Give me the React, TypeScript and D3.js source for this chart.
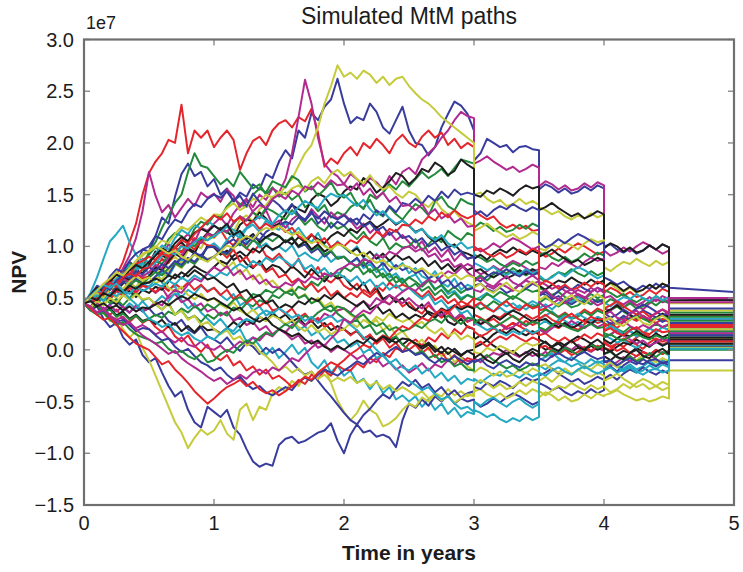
import React from 'react';
import * as d3 from 'd3';

// Canvas and plotting frame
const WIDTH = 743;
const HEIGHT = 572;
const PLOT = { left: 84, top: 39.5, right: 734, bottom: 505 };
const FONT = '"Liberation Sans", Arial, Helvetica, sans-serif';

// Axes
const xTicks = [0, 1, 2, 3, 4, 5];
const yTicks = [-1.5, -1.0, -0.5, 0, 0.5, 1.0, 1.5, 2.0, 2.5, 3.0];
const yOffsetLabel = '1e7';
const titleText = 'Simulated MtM paths';
const xLabelText = 'Time in years';
const yLabelText = 'NPV';

// Path values are stored in units of 1e5; payment dates split each path into segments
const VALUE_UNIT = 1e5;
const segmentSpans: [number, number][] = [
  [0, 3],
  [3, 3.5],
  [3.5, 4],
  [4, 4.5],
  [4.5, 5],
];

// Classic colour cycle (b, g, r, c, m, y, k)
const lineColors = ['#383c9c', '#23893b', '#e4262c', '#25a8c2', '#b02a8f', '#c5cb3a', '#1e1e1e'];

// Simulated mark-to-market paths, one string per path, segments separated by "|"
const mtmPaths: string[] = [
  '45 52 47 60 68 63 78 85 80 97 95 110 128 122 148 170 180 168 172 158 165 150 156 143 152 148 160 155 170 166 182 193 185 212 205 229 222 235 242 262 238 219 225 222 238 230 215 209 222 235 212 200 198 188 196 215 228 240 236 228 212 | 183 190 204 200 196 198 191 196 197 194 193 | 155 160 157 152 156 151 153 158 154 159 156 | 100 102 97 94 98 93 96 101 97 102 99 | 60 56',
  '45 40 52 48 58 62 55 70 82 78 95 104 118 130 142 150 172 190 178 176 168 160 165 158 172 164 156 160 150 157 148 152 145 150 138 142 134 140 128 133 130 138 142 136 150 146 152 160 155 163 158 165 172 166 170 175 168 176 184 182 180 | 68 72 67 73 77 74 79 75 72 76 73 | 60 57 53 56 51 48 52 49 54 50 53 | 35 38 42 37 33 29 32 27 30 34 31 | 22 22',
  '45 50 48 58 66 72 85 104 122 150 171 182 190 203 200 237 190 212 205 212 196 205 212 203 174 190 202 206 198 212 219 222 215 225 221 233 210 177 185 180 190 196 188 200 195 204 198 190 202 208 200 196 206 212 205 210 198 204 195 200 196 | 135 130 126 129 122 118 121 117 120 115 116 | 95 90 93 98 94 99 103 100 96 92 95 | 55 60 57 52 56 51 53 58 54 59 56 | 33 33',
  '45 55 70 88 105 112 120 104 92 85 72 78 65 58 62 48 40 45 36 30 24 30 22 15 20 8 12 4 -5 2 -8 -2 5 -4 2 -12 -18 -10 -22 -15 -25 -20 -32 -28 -38 -30 -42 -36 -48 -44 -50 -45 -55 -48 -58 -52 -62 -56 -65 -60 -62 | -58 -61 -65 -62 -67 -70 -66 -69 -64 -68 -65 | -15 -19 -14 -10 -12 -7 -11 -14 -9 -13 -10 | -12 -10 -15 -18 -14 -19 -16 -11 -15 -10 -13 | 9 9',
  '45 50 58 52 62 60 70 78 72 88 84 95 90 102 98 106 112 104 118 115 122 128 120 132 140 146 138 150 145 156 152 165 190 225 261 238 205 180 172 168 160 170 165 158 166 162 155 168 160 172 176 170 184 190 196 205 212 222 230 226 224 | 180 183 187 182 178 174 177 172 175 179 176 | 158 163 160 155 159 154 156 161 157 162 159 | 96 91 94 99 95 100 104 101 97 93 96 | 50 48',
  '45 40 48 44 55 50 58 66 60 72 70 78 74 85 90 84 96 102 98 110 108 115 120 114 126 130 124 136 140 148 150 158 165 178 190 198 215 238 255 275 264 268 262 270 266 258 264 256 262 264 255 248 242 238 232 225 220 215 210 205 200 | 150 152 146 142 145 139 141 146 141 144 140 | 138 135 131 134 129 126 130 127 132 128 131 | 80 76 81 85 83 88 84 81 86 82 85 | 45 45',
  '45 49 58 55 51 63 70 68 77 74 82 95 91 88 99 104 97 93 106 113 110 118 114 109 121 126 124 133 127 119 122 131 140 136 133 145 151 148 139 144 153 158 155 166 161 152 157 163 171 168 160 166 175 172 181 177 169 173 184 179 175 | 150 148 154 151 156 153 149 155 159 156 158 | 135 138 142 137 133 129 132 127 130 134 131 | 98 103 100 95 99 94 96 101 97 102 99 | 48 48',
  '45 38 42 30 22 26 12 5 10 -5 -12 -8 -22 -35 -45 -40 -58 -70 -75 -55 -60 -65 -58 -75 -82 -96 -108 -113 -110 -112 -92 -86 -84 -90 -88 -84 -80 -78 -71 -88 -100 -82 -72 -80 -78 -84 -82 -85 -94 -68 -52 -56 -48 -54 -45 -50 -44 -52 -47 -50 -48 | -50 -55 -52 -47 -51 -46 -42 -45 -49 -53 -50 | -32 -35 -39 -36 -41 -44 -40 -43 -38 -42 -39 | -28 -24 -29 -23 -19 -22 -17 -21 -24 -20 -23 | -10 -10',
  '45 52 49 61 66 62 71 83 80 86 92 99 95 107 113 110 104 117 124 121 130 128 139 146 141 138 150 156 152 163 160 157 168 164 153 158 149 155 162 151 147 152 141 137 145 133 129 138 131 126 134 141 137 130 143 148 139 135 146 142 140 | 118 123 120 115 119 114 116 121 117 122 119 | 92 94 89 86 90 85 88 93 89 94 91 | 58 55 51 54 49 46 50 47 52 48 51 | 36 36',
  '45 41 50 57 53 62 58 66 74 69 71 79 88 84 93 101 97 108 104 112 109 116 106 101 110 98 94 102 91 87 93 85 79 88 76 72 80 69 65 71 62 58 64 55 51 57 48 44 50 42 46 39 35 43 37 31 36 28 33 27 30 | 28 24 29 33 31 36 32 29 34 30 33 | 20 18 24 21 26 23 19 25 29 26 28 | 8 3 6 11 7 12 16 13 9 5 8 | 10 10',
  '45 39 44 52 48 57 53 49 60 64 61 68 75 71 82 88 84 93 90 99 103 97 106 113 108 117 121 114 125 119 116 123 112 118 109 104 113 101 96 105 99 94 100 89 85 93 81 87 78 84 74 79 71 68 76 65 61 69 58 63 60 | 48 51 55 50 46 42 45 40 43 47 44 | 40 44 39 45 49 46 51 47 44 48 45 | 20 22 17 14 18 13 16 21 17 22 19 | 16 16',
  '45 53 58 55 68 64 79 91 108 134 172 149 133 140 128 137 146 139 152 147 151 143 155 149 138 144 133 127 135 121 125 118 126 131 124 136 129 122 133 127 131 125 117 122 113 119 108 114 106 111 104 98 105 94 99 90 97 86 93 88 90 | 78 73 76 81 77 82 86 83 79 75 78 | 66 63 59 62 57 54 58 55 60 56 59 | 40 38 44 41 46 43 39 45 49 46 48 | 26 26',
  '45 40 46 35 28 32 20 12 18 2 -10 -25 -40 -55 -70 -80 -95 -85 -77 -82 -78 -68 -81 -87 -58 -52 -68 -55 -58 -42 -36 -40 -30 -35 -25 -30 -22 -17 -32 -49 -60 -68 -61 -49 -58 -62 -74 -71 -66 -58 -52 -55 -46 -50 -42 -45 -38 -44 -40 -45 -42 | -40 -38 -43 -46 -42 -47 -44 -39 -43 -38 -41 | -46 -41 -44 -49 -45 -50 -48 -43 -47 -42 -45 | -44 -42 -39 -43 -46 -49 -47 -50 -48 -45 -47 | -20 -20',
  '45 51 56 50 61 57 64 72 68 63 71 80 77 86 93 89 98 95 88 101 99 92 96 87 91 83 79 86 77 82 80 74 81 76 70 78 72 66 74 69 71 63 58 65 54 60 49 53 46 50 42 38 44 35 31 37 27 24 30 22 20 | 10 14 9 15 19 16 21 17 14 18 15 | 5 0 3 8 4 9 13 10 6 2 5 | -6 -10 -5 -1 -3 2 -2 -5 0 -4 -1 | 3 3',
  '45 49 43 38 44 47 41 36 42 37 40 33 36 28 24 29 20 16 22 13 10 6 12 4 -1 7 3 -4 2 -3 1 -5 -12 -19 -24 -21 -30 -38 -45 -53 -61 -68 -72 -63 -57 -49 -43 -47 -38 -31 -35 -29 -37 -33 -41 -36 -44 -39 -46 -42 -40 | -36 -38 -32 -35 -30 -33 -37 -31 -27 -30 -28 | -25 -22 -18 -23 -27 -31 -28 -33 -30 -26 -29 | -20 -16 -21 -15 -11 -14 -9 -13 -16 -12 -15 | 4 4',
  '45 40 47 55 51 60 68 65 73 77 80 86 83 92 99 95 103 100 108 106 111 117 113 122 129 125 133 128 137 134 130 126 135 129 121 127 119 115 123 117 120 113 107 114 105 101 108 97 103 99 100 107 96 102 109 104 115 110 106 113 110 | 92 89 85 88 83 80 84 81 86 82 85 | 70 66 71 75 73 78 74 71 76 72 75 | 44 49 46 41 45 40 42 47 43 48 45 | 28 28',
  '45 42 47 38 34 39 30 27 33 26 30 22 17 23 13 8 14 4 -2 5 -6 -10 -5 -15 -11 -20 -16 -24 -19 -28 -25 -30 -36 -29 -33 -24 -28 -20 -25 -15 -19 -20 -13 -17 -8 -12 -3 -7 2 -2 6 10 4 12 8 16 11 20 15 23 20 | 18 13 16 21 17 22 26 23 19 15 18 | 14 16 11 8 12 7 10 15 11 16 13 | 2 0 6 3 8 5 1 7 11 8 10 | 6 6',
  '45 53 49 60 68 65 76 82 78 87 85 93 101 97 108 116 112 121 117 125 120 116 121 110 114 104 108 99 103 96 100 95 101 90 94 89 86 93 85 90 90 84 88 79 83 75 79 70 74 66 70 73 64 68 59 62 54 57 50 53 50 | 40 45 42 37 41 36 38 43 39 44 41 | 30 33 37 32 28 24 27 22 25 29 26 | 14 11 7 10 5 2 6 3 8 4 7 | 12 12',
  '45 51 48 57 53 61 58 64 56 62 60 55 60 50 54 46 49 41 45 37 40 33 37 28 31 24 27 19 23 15 20 16 10 14 6 9 2 5 -2 3 0 -4 -9 -5 -13 -8 -16 -12 -19 -15 -22 -18 -13 -20 -14 -17 -10 -14 -7 -11 -10 | -8 -12 -7 -3 -5 0 -4 -7 -2 -6 -3 | -6 -2 -7 -1 3 0 5 1 -2 2 -1 | -10 -15 -12 -7 -11 -6 -2 -5 -9 -13 -10 | 8 8',
  '45 51 57 54 66 72 69 78 86 93 95 99 106 103 112 119 116 122 128 124 131 130 137 142 135 139 146 144 150 147 153 150 156 159 154 163 167 161 170 174 168 172 165 161 169 160 155 158 151 147 153 150 142 138 145 136 131 134 127 123 120 | 115 118 122 117 113 109 112 107 110 114 111 | 98 96 102 99 104 101 97 103 107 104 106 | 62 64 59 56 60 55 58 63 59 64 61 | 38 38',
  '45 41 46 52 48 44 53 57 51 58 55 61 58 66 73 69 75 81 77 74 80 86 83 91 95 90 98 94 101 97 100 106 102 109 104 111 107 103 110 114 110 117 113 120 124 118 122 127 121 125 120 114 117 109 104 108 99 102 95 93 90 | 76 78 73 70 74 69 72 77 73 78 75 | 62 58 63 67 65 70 66 63 68 64 67 | 36 39 43 38 34 30 33 28 31 35 32 | 24 24',
  '45 53 62 59 71 78 75 86 93 97 100 110 107 118 126 123 134 141 138 146 150 147 153 144 149 139 151 143 136 145 140 133 141 130 126 134 122 128 118 124 120 127 121 131 126 135 130 139 133 142 140 146 141 149 144 153 147 155 150 152 150 | 130 134 129 135 139 136 141 137 134 138 135 | 104 99 102 107 103 108 112 109 105 101 104 | 70 67 63 66 61 58 62 59 64 60 63 | 40 40',
  '45 40 47 51 45 49 43 50 55 48 50 44 39 45 34 38 30 33 27 34 30 36 33 41 38 45 42 48 45 53 50 56 53 61 58 66 62 70 74 71 80 76 82 73 78 70 74 66 71 64 70 66 61 67 58 63 56 61 55 59 60 | 50 48 54 51 56 53 49 55 59 56 58 | 45 50 47 42 46 41 43 48 44 49 46 | 26 22 27 31 29 34 30 27 32 28 31 | 18 18',
  '45 53 60 57 68 64 75 72 83 86 90 87 95 91 99 94 102 97 105 101 100 95 89 97 85 90 80 84 75 79 70 73 65 69 60 64 56 61 52 57 50 55 51 58 54 62 57 65 60 63 60 56 51 57 48 52 45 49 41 44 40 | 34 31 27 30 25 22 26 23 28 24 27 | 38 40 35 32 36 31 34 39 35 40 37 | 22 26 21 27 31 28 33 29 26 30 27 | 20 20',
  '45 39 45 36 41 33 38 45 40 47 40 46 52 47 55 51 58 54 62 57 60 53 48 54 43 47 38 42 33 37 30 24 28 19 23 14 18 10 15 7 10 3 7 -3 1 -8 -4 -13 -9 -17 -20 -15 -23 -18 -27 -22 -30 -25 -33 -28 -30 | -28 -32 -27 -23 -25 -20 -24 -27 -22 -26 -23 | -10 -7 -3 -8 -12 -16 -13 -18 -15 -11 -14 | -18 -13 -16 -21 -17 -22 -20 -15 -19 -14 -17 | 5 5',
  '45 51 57 53 63 59 69 65 73 71 75 82 79 89 95 91 100 106 103 112 110 117 114 123 129 125 134 140 137 146 150 146 154 150 158 155 162 157 164 159 160 154 161 150 156 147 152 143 148 139 140 135 141 131 136 127 131 123 127 119 120 | 100 95 98 103 99 104 108 105 101 97 100 | 80 78 84 81 86 83 79 85 89 86 88 | 50 52 47 44 48 43 46 51 47 52 49 | 30 30',
  '45 50 47 55 51 59 56 63 60 67 65 71 68 77 83 79 87 83 91 88 90 84 79 85 73 78 68 73 63 67 60 55 60 50 54 45 50 42 46 38 40 34 29 35 24 29 19 24 14 18 10 5 10 0 4 -6 -2 -12 -7 -16 -20 | -22 -17 -20 -25 -21 -26 -24 -19 -23 -18 -21 | -30 -26 -31 -25 -21 -24 -19 -23 -26 -22 -25 | -30 -27 -23 -28 -32 -36 -33 -38 -35 -31 -34 | 11 11',
  '45 39 43 36 40 33 37 30 34 28 30 25 29 22 26 18 23 17 24 19 20 16 21 27 22 29 25 32 28 35 30 34 27 31 24 28 21 26 19 23 20 15 18 11 14 8 13 7 12 5 10 6 1 5 -2 3 -4 1 -5 -1 0 | 2 5 9 4 0 -4 -1 -6 -3 1 -2 | 10 7 3 6 1 -2 2 -1 4 0 3 | 2 -2 3 7 5 10 6 3 8 4 7 | 10 10',
  '45 51 47 56 62 58 66 61 69 64 65 71 77 73 83 89 85 94 91 99 100 95 103 107 101 110 105 114 108 112 110 104 108 99 102 94 98 90 95 88 90 84 89 81 86 78 84 76 82 77 80 74 77 69 72 64 68 60 65 58 60 | 62 64 59 56 60 55 58 63 59 64 61 | 52 56 51 57 61 58 63 59 56 60 57 | 30 25 28 33 29 34 38 35 31 27 30 | 22 22',
  '45 41 48 54 50 59 55 63 67 64 70 75 72 79 84 80 87 83 91 86 90 95 92 99 103 98 106 102 109 105 110 104 109 100 105 96 100 92 96 88 90 84 80 85 75 79 70 74 65 69 60 64 57 61 53 58 50 55 48 53 50 | 44 39 42 47 43 48 52 49 45 41 44 | 34 39 36 31 35 30 32 37 33 38 35 | 16 14 20 17 22 19 15 21 25 22 24 | 14 14',
  '45 50 46 54 49 57 52 60 55 62 60 56 62 57 64 59 65 58 63 56 60 53 58 49 54 45 50 42 47 38 40 35 40 31 35 27 31 22 26 18 20 14 19 10 15 6 11 2 7 -2 0 5 -3 2 -7 -2 -11 -5 -13 -8 -10 | 4 8 3 9 13 10 15 11 8 12 9 | 2 4 -1 -4 0 -5 -2 3 -1 4 1 | 6 3 -1 2 -3 -6 -2 -5 0 -4 -1 | 8 8',
  '45 52 58 55 62 69 74 70 76 83 80 84 91 95 92 100 98 104 109 106 110 114 119 116 111 118 124 129 126 122 130 135 131 138 144 140 137 146 151 148 150 144 139 145 136 130 134 127 122 125 120 113 117 110 106 111 103 99 104 98 100 | 84 81 77 80 75 72 76 73 78 74 77 | 72 67 70 75 71 76 80 77 73 69 72 | 46 42 47 51 49 54 50 47 52 48 51 | 30 30',
  '45 40 36 41 33 29 32 25 21 24 20 15 18 11 7 12 5 3 8 2 0 4 -2 3 8 5 12 9 16 13 20 17 24 28 23 31 27 35 32 38 40 36 43 47 42 50 46 53 49 45 50 44 40 46 37 33 39 30 35 28 30 | 24 29 26 21 25 20 22 27 23 28 25 | 20 16 21 25 23 28 24 21 26 22 25 | 12 15 19 14 10 6 9 4 7 11 8 | 16 16',
  '45 51 55 50 58 63 59 66 71 67 70 64 68 60 56 61 53 49 54 47 50 44 40 46 38 34 39 32 28 33 30 25 29 22 18 24 17 21 15 19 20 26 22 29 25 32 28 35 30 27 30 24 27 20 16 21 13 17 10 14 10 | -2 -4 2 -1 4 1 -3 3 7 4 6 | -16 -14 -19 -22 -18 -23 -20 -15 -19 -14 -17 | -16 -12 -17 -11 -7 -10 -5 -9 -12 -8 -11 | 2 2',
  '45 53 60 57 66 73 69 77 82 79 85 91 98 94 103 109 105 113 117 114 120 116 122 111 115 107 112 104 109 113 110 104 108 100 105 97 102 95 99 103 100 94 98 90 95 88 93 86 92 87 90 84 89 81 86 78 83 76 82 77 80 | 88 92 87 93 97 94 99 95 92 96 93 | 90 93 97 92 88 84 87 82 85 89 86 | 60 65 62 57 61 56 58 63 59 64 61 | 34 34',
  '45 51 57 62 58 67 72 69 76 73 80 76 83 79 86 82 89 85 92 87 90 96 93 101 106 102 110 106 114 118 120 124 121 128 125 132 127 134 129 126 130 124 127 119 123 115 119 111 116 108 110 104 108 100 104 96 100 92 96 88 90 | 70 66 71 75 73 78 74 71 76 72 75 | 56 53 49 52 47 44 48 45 50 46 49 | 36 31 34 39 35 40 44 41 37 33 36 | 26 26',
  '45 40 43 36 39 32 35 29 33 27 30 34 31 37 34 40 36 42 38 44 40 45 42 48 51 47 54 52 58 55 60 55 58 50 53 45 48 40 43 35 30 26 29 21 24 15 19 10 13 5 0 -4 -1 -8 -5 -12 -9 -16 -13 -19 -20 | -12 -9 -5 -10 -14 -18 -15 -20 -17 -13 -16 | -4 -6 0 -3 2 -1 -5 1 5 2 4 | -4 -2 -7 -10 -6 -11 -8 -3 -7 -2 -5 | 0 0',
  '45 52 49 58 65 61 70 74 71 78 80 87 93 90 99 106 103 112 118 124 130 126 132 124 128 120 125 117 122 118 120 114 118 110 106 112 103 108 99 104 100 106 103 110 107 114 110 117 114 121 120 126 122 129 125 133 128 135 130 127 130 | 96 98 93 90 94 89 92 97 93 98 95 | 62 67 64 59 63 58 60 65 61 66 63 | 40 43 47 42 38 34 37 32 35 39 36 | 24 24',
  '45 49 53 47 55 52 58 54 61 57 60 64 61 67 63 70 66 72 68 74 70 75 72 79 83 79 86 82 89 85 90 86 81 87 78 82 74 79 71 75 70 66 71 63 68 60 65 58 63 57 60 54 49 54 44 48 40 43 35 38 30 | 26 23 19 22 17 14 18 15 20 16 19 | 24 28 23 29 33 30 35 31 28 32 29 | 18 23 20 15 19 14 16 21 17 22 19 | 20 20',
  '45 41 46 39 43 37 42 36 43 38 40 46 43 52 58 55 63 69 66 74 80 76 81 72 77 68 72 64 68 61 60 65 62 68 65 71 68 74 71 77 80 84 81 88 85 92 89 95 92 98 100 95 98 90 93 85 88 80 83 75 70 | 58 56 62 59 64 61 57 63 67 64 66 | 46 41 44 49 45 50 54 51 47 43 46 | 32 29 25 28 23 20 24 21 26 22 25 | 46 46',
  '45 41 47 43 50 46 53 48 54 49 50 44 39 44 34 38 29 33 24 27 20 15 19 10 13 4 7 -2 -6 -12 -20 -16 -22 -18 -25 -21 -28 -24 -31 -27 -30 -26 -32 -29 -35 -31 -38 -34 -40 -36 -40 -44 -40 -47 -43 -49 -45 -51 -47 -43 -45 | -34 -29 -32 -37 -33 -38 -36 -31 -35 -30 -33 | -40 -44 -39 -35 -37 -32 -36 -39 -34 -38 -35 | -36 -41 -38 -33 -37 -32 -28 -31 -35 -39 -36 | 6 6',
  '45 51 48 55 52 59 56 62 59 64 65 69 66 72 69 75 71 77 73 68 70 65 60 64 55 58 50 53 45 48 40 44 41 47 44 50 47 53 49 55 50 46 42 47 39 43 35 39 31 35 30 34 31 37 34 40 37 43 39 42 40 | 30 25 28 33 29 34 38 35 31 27 30 | 28 30 25 22 26 21 24 29 25 30 27 | 10 6 11 15 13 18 14 11 16 12 15 | 12 12',
  '45 41 36 38 31 27 29 24 18 21 20 14 9 11 3 -2 1 -6 -12 -15 -20 -17 -24 -29 -26 -33 -38 -35 -41 -44 -40 -36 -39 -31 -27 -30 -24 -19 -22 -25 -20 -16 -11 -14 -8 -3 -6 -1 3 -2 0 -5 -3 -9 -13 -8 -11 -6 -10 -14 -10 | -12 -9 -15 -18 -13 -10 -14 -17 -12 -15 -13 | -8 -11 -6 -3 -7 -10 -5 -2 -6 -9 -7 | -12 -10 -15 -11 -8 -12 -14 -10 -9 -13 -11 | 14 14',
  '45 38 34 36 29 24 27 20 15 12 10 6 8 1 -3 -1 -6 -9 -4 -12 -10 -4 0 -3 4 9 6 12 17 14 20 25 21 28 33 30 36 40 37 42 40 35 31 34 27 23 26 19 22 18 20 24 21 27 30 26 33 29 25 31 30 | 26 30 27 22 25 29 33 28 24 27 26 | 22 19 24 27 23 20 18 22 25 21 22 | 12 15 11 9 13 16 12 10 14 11 12 | 32 32',
  '45 40 34 29 31 24 18 12 6 3 0 -7 -14 -11 -19 -25 -32 -40 -46 -52 -47 -41 -36 -33 -29 -35 -31 -38 -42 -39 -44 -40 -35 -31 -26 -29 -22 -17 -12 -15 -10 -4 0 5 2 9 14 11 18 23 20 26 31 28 35 39 36 42 47 44 50 | 42 46 40 37 43 47 41 38 44 40 42 | 30 34 29 26 31 35 30 27 32 29 30 | 18 21 16 14 19 22 17 15 20 17 18 | 22 22',
  '45 52 58 63 60 64 57 50 44 38 30 27 22 25 18 14 17 11 8 13 10 16 21 18 26 30 27 34 38 35 40 36 31 34 28 32 26 30 33 27 30 24 19 12 7 0 -6 -12 -18 -24 -30 -34 -39 -36 -43 -48 -45 -52 -57 -55 -60 | -50 -54 -49 -46 -51 -55 -50 -47 -52 -56 -52 | -22 -25 -20 -17 -21 -24 -19 -16 -20 -23 -20 | -20 -17 -22 -19 -16 -21 -24 -20 -18 -22 -20 | 1 1',
  '45 42 36 39 32 28 24 27 20 14 10 6 1 -4 -1 -8 -13 -17 -21 -26 -30 -27 -33 -29 -24 -28 -22 -19 -23 -17 -20 -14 -8 -11 -4 2 7 4 11 17 30 26 33 38 35 42 47 44 51 56 60 57 63 68 65 71 76 73 79 83 80 | 66 70 64 61 67 71 65 62 68 72 67 | 54 58 52 49 55 59 53 50 56 60 55 | 34 37 31 29 35 38 32 30 36 39 34 | 50 50',
  '45 51 57 64 69 75 72 79 86 91 96 100 97 93 96 90 87 92 88 85 90 95 101 98 106 110 107 114 118 116 120 115 111 114 107 103 106 100 97 102 100 95 91 94 88 84 87 81 78 82 80 76 79 74 71 75 69 73 68 72 70 | 60 64 58 55 61 65 59 56 62 66 61 | 48 52 46 43 49 53 47 44 50 54 49 | 28 31 25 23 29 32 26 24 30 33 28 | 20 20',
  '45 47 42 45 40 43 38 42 37 41 40 44 47 43 48 52 49 54 51 48 50 46 42 38 41 34 30 27 31 24 20 17 13 16 10 6 9 3 0 4 0 5 9 6 12 8 13 10 7 11 10 6 3 7 1 -3 2 -2 -6 -1 -5 | -8 -4 -10 -13 -7 -3 -9 -12 -6 -2 -7 | 4 8 2 -1 5 9 3 0 6 10 5 | -4 -1 -7 -9 -3 0 -6 -8 -2 1 -4 | 6 6',
];

type Point = [number, number];

// Turn one path string into (time, NPV) points; each segment spans its payment period
function parsePath(text: string): Point[] {
  const points: Point[] = [];
  text.split('|').forEach((segment, k) => {
    const values = segment.trim().split(/\s+/).map(Number);
    const [t0, t1] = segmentSpans[k];
    values.forEach((v, i) => {
      const t = values.length > 1 ? t0 + ((t1 - t0) * i) / (values.length - 1) : t0;
      points.push([t, v * VALUE_UNIT]);
    });
  });
  return points;
}

const formatTick = (v: number) => v.toFixed(1).replace('-', '\u2212');

export default function App() {
  const x = d3.scaleLinear().domain([0, 5]).range([PLOT.left, PLOT.right]);
  const y = d3.scaleLinear().domain([-1.5e7, 3e7]).range([PLOT.bottom, PLOT.top]);
  const line = d3
    .line<Point>()
    .x((d) => x(d[0]))
    .y((d) => y(d[1]));

  const series = mtmPaths.map(parsePath);
  const plotW = PLOT.right - PLOT.left;
  const plotH = PLOT.bottom - PLOT.top;
  const tickLen = 6;
  const tickColor = '#8a8a8a';
  const textColor = '#1c1c1c';

  return (
    <svg
      width={WIDTH}
      height={HEIGHT}
      style={{ position: 'absolute', left: 0, top: 0, display: 'block', background: '#ffffff' }}
      fontFamily={FONT}
    >
      <defs>
        <clipPath id="plot-clip">
          <rect x={PLOT.left} y={PLOT.top} width={plotW} height={plotH} />
        </clipPath>
      </defs>
      <rect x={0} y={0} width={WIDTH} height={HEIGHT} fill="#ffffff" />

      <g clipPath="url(#plot-clip)">
        {series.map((pts, i) => (
          <path
            key={i}
            d={line(pts) ?? ''}
            fill="none"
            stroke={lineColors[i % lineColors.length]}
            strokeWidth={2}
            strokeLinejoin="round"
            strokeLinecap="round"
          />
        ))}
      </g>

      {/* tick marks on all four sides, pointing inward */}
      <g stroke={tickColor} strokeWidth={1.4}>
        {xTicks.map((t) => (
          <g key={`xt${t}`}>
            <line x1={x(t)} x2={x(t)} y1={PLOT.bottom} y2={PLOT.bottom - tickLen} />
            <line x1={x(t)} x2={x(t)} y1={PLOT.top} y2={PLOT.top + tickLen} />
          </g>
        ))}
        {yTicks.map((t) => (
          <g key={`yt${t}`}>
            <line x1={PLOT.left} x2={PLOT.left + tickLen} y1={y(t * 1e7)} y2={y(t * 1e7)} />
            <line x1={PLOT.right} x2={PLOT.right - tickLen} y1={y(t * 1e7)} y2={y(t * 1e7)} />
          </g>
        ))}
      </g>

      <rect x={PLOT.left} y={PLOT.top} width={plotW} height={plotH} fill="none" stroke="#6f6f6f" strokeWidth={2.2} />

      {/* tick labels */}
      <g fill={textColor} fontSize={20}>
        {xTicks.map((t) => (
          <text key={`xl${t}`} x={x(t)} y={529.5} textAnchor="middle">
            {String(t)}
          </text>
        ))}
        {yTicks.map((t) => (
          <text key={`yl${t}`} x={74} y={y(t * 1e7) + 7} textAnchor="end">
            {formatTick(t)}
          </text>
        ))}
      </g>

      <text x={86} y={29} fontSize={18} fill={textColor}>
        {yOffsetLabel}
      </text>
      <text x={(PLOT.left + PLOT.right) / 2} y={24} fontSize={23} textAnchor="middle" fill={textColor}>
        {titleText}
      </text>
      <text
        x={(PLOT.left + PLOT.right) / 2}
        y={560}
        fontSize={21}
        fontWeight="bold"
        textAnchor="middle"
        fill={textColor}
      >
        {xLabelText}
      </text>
      <text
        transform={`translate(26, ${(PLOT.top + PLOT.bottom) / 2}) rotate(-90)`}
        fontSize={21}
        fontWeight="bold"
        textAnchor="middle"
        fill={textColor}
      >
        {yLabelText}
      </text>
    </svg>
  );
}
